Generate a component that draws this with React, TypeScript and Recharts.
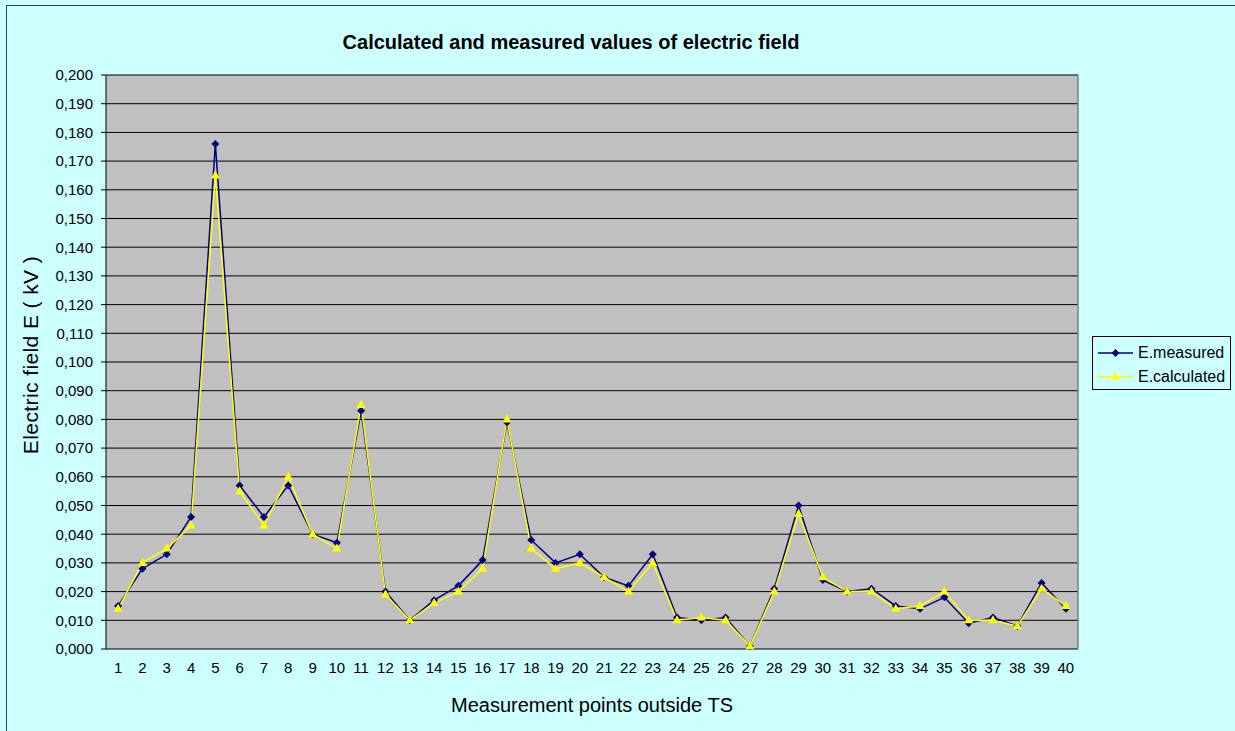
import React from 'react'
import { LineChart, Line, XAxis, YAxis, CartesianGrid, ReferenceLine } from 'recharts'

// measurement point numbers along the x axis
const points = [
  1, 2, 3, 4, 5, 6, 7, 8, 9, 10, 11, 12, 13, 14, 15, 16, 17, 18, 19, 20,
  21, 22, 23, 24, 25, 26, 27, 28, 29, 30, 31, 32, 33, 34, 35, 36, 37, 38, 39, 40
]

// E.measured (kV)
const measured = [
  0.015, 0.028, 0.033, 0.046, 0.176, 0.057, 0.046, 0.057, 0.040, 0.037,
  0.083, 0.020, 0.010, 0.017, 0.022, 0.031, 0.079, 0.038, 0.030, 0.033,
  0.025, 0.022, 0.033, 0.011, 0.010, 0.011, 0.001, 0.021, 0.050, 0.024,
  0.020, 0.021, 0.015, 0.014, 0.018, 0.009, 0.011, 0.008, 0.023, 0.014
]

// E.calculated (kV)
const calculated = [
  0.014, 0.030, 0.035, 0.043, 0.165, 0.055, 0.043, 0.060, 0.040, 0.035,
  0.085, 0.019, 0.010, 0.016, 0.020, 0.028, 0.080, 0.035, 0.028, 0.030,
  0.025, 0.020, 0.030, 0.010, 0.011, 0.010, 0.001, 0.020, 0.047, 0.025,
  0.020, 0.020, 0.014, 0.015, 0.020, 0.010, 0.010, 0.008, 0.021, 0.015
]

const yTicks = [
  0, 0.01, 0.02, 0.03, 0.04, 0.05, 0.06, 0.07, 0.08, 0.09, 0.1,
  0.11, 0.12, 0.13, 0.14, 0.15, 0.16, 0.17, 0.18, 0.19, 0.2
]

const data = points.map((p, i) => ({
  point: p,
  measured: measured[i],
  calculated: calculated[i]
}))

// tick marks sit between categories, like in Excel
const boundaries = [...points.map((p) => p - 0.5), points[points.length - 1] + 0.5]
const xMax = points[points.length - 1] + 0.5

const NAVY = '#000080'
const YELLOW = '#FFFF00'
const FONT = '"Liberation Sans", Arial, sans-serif'

const Diamond = ({ cx, cy }: any) => {
  if (cx == null || cy == null) return null
  return <polygon points={`${cx},${cy - 4} ${cx + 4},${cy} ${cx},${cy + 4} ${cx - 4},${cy}`} fill={NAVY} />
}

const Triangle = ({ cx, cy }: any) => {
  if (cx == null || cy == null) return null
  return <polygon points={`${cx},${cy - 5} ${cx + 4.5},${cy + 3} ${cx - 4.5},${cy + 3}`} fill={YELLOW} />
}

const formatY = (v: number) => v.toFixed(3).replace('.', ',')

const legendItems = [
  { name: 'E.measured', color: NAVY, shape: 'diamond' },
  { name: 'E.calculated', color: YELLOW, shape: 'triangle' }
]

const LegendBox = () => (
  <div
    style={{
      position: 'absolute',
      left: 1092,
      top: 336,
      width: 139,
      height: 54,
      border: '1px solid #000',
      fontFamily: FONT,
      fontSize: 16,
      color: '#000',
      boxSizing: 'border-box',
      paddingTop: 4
    }}
  >
    {legendItems.map((e) => (
      <div key={e.name} style={{ display: 'flex', alignItems: 'center', height: 24 }}>
        <svg width={42} height={12} style={{ marginLeft: 3 }}>
          <line x1={2} y1={6} x2={37} y2={6} stroke={e.color} strokeWidth={1.5} />
          {e.shape === 'diamond' ? (
            <polygon points="19.5,2 23.5,6 19.5,10 15.5,6" fill={e.color} />
          ) : (
            <polygon points="19.5,1 24,9 15,9" fill={e.color} />
          )}
        </svg>
        <span>{e.name}</span>
      </div>
    ))}
  </div>
)

const YLabel = () => (
  <text
    x={30}
    y={355}
    transform="rotate(-90, 30, 355)"
    textAnchor="middle"
    dominantBaseline="central"
    fill="#000"
    fontSize={21}
    fontFamily={FONT}
    letterSpacing={0.4}
  >
    Electric field E ( kV )
  </text>
)

export default function App() {
  return (
    <div
      style={{
        position: 'absolute',
        left: 0,
        top: 0,
        width: 1235,
        height: 731,
        background: '#CCFFFF',
        overflow: 'hidden'
      }}
    >
      <div
        style={{
          position: 'absolute',
          left: 6,
          top: 5,
          width: 1250,
          height: 760,
          border: '1px solid #404040'
        }}
      />
      <div
        style={{
          position: 'absolute',
          left: 0,
          width: 1142,
          top: 31,
          textAlign: 'center',
          fontFamily: FONT,
          fontWeight: 'bold',
          fontSize: 20,
          color: '#000'
        }}
      >
        Calculated and measured values of electric field
      </div>
      <LineChart
        width={1235}
        height={731}
        data={data}
        margin={{ top: 75, right: 157, left: 0, bottom: 0 }}
        style={{ position: 'absolute', left: 0, top: 0 }}
      >
        <CartesianGrid
          horizontal
          vertical={false}
          stroke="#000"
          strokeWidth={1}
          fill="#C0C0C0"
          fillOpacity={1}
        />
        <XAxis
          xAxisId="marks"
          dataKey="point"
          type="number"
          domain={[0.5, 40.5]}
          ticks={boundaries}
          tick={false}
          tickSize={5}
          axisLine={{ stroke: '#000' }}
          tickLine={{ stroke: '#000' }}
          height={0}
        />
        <XAxis
          xAxisId="main"
          dataKey="point"
          type="number"
          domain={[0.5, 40.5]}
          ticks={points}
          interval={0}
          tickLine={false}
          axisLine={false}
          tick={{ fill: '#000', fontSize: 15, fontFamily: FONT }}
          tickMargin={7}
          height={82}
          label={{
            value: 'Measurement points outside TS',
            position: 'insideBottom',
            offset: 19,
            style: { fill: '#000', fontSize: 20, fontFamily: FONT }
          }}
        />
        <YAxis
          domain={[0, 0.2]}
          ticks={yTicks}
          interval={0}
          width={106}
          tickFormatter={formatY}
          tickSize={5}
          tickMargin={8}
          axisLine={{ stroke: '#000' }}
          tickLine={{ stroke: '#000' }}
          tick={{ fill: '#000', fontSize: 15, fontFamily: FONT }}
          label={<YLabel />}
        />
        <ReferenceLine xAxisId="main" x={xMax} stroke="#808080" strokeWidth={1.5} />
        <Line
          xAxisId="main"
          type="linear"
          dataKey="measured"
          name="E.measured"
          stroke={NAVY}
          strokeWidth={1.5}
          dot={(props: any) => <Diamond key={`m${props.index}`} {...props} />}
          activeDot={false}
          isAnimationActive={false}
        />
        <Line
          xAxisId="main"
          type="linear"
          dataKey="calculated"
          name="E.calculated"
          stroke={YELLOW}
          strokeWidth={1.5}
          dot={(props: any) => <Triangle key={`c${props.index}`} {...props} />}
          activeDot={false}
          isAnimationActive={false}
        />
      </LineChart>
      <LegendBox />
    </div>
  )
}
